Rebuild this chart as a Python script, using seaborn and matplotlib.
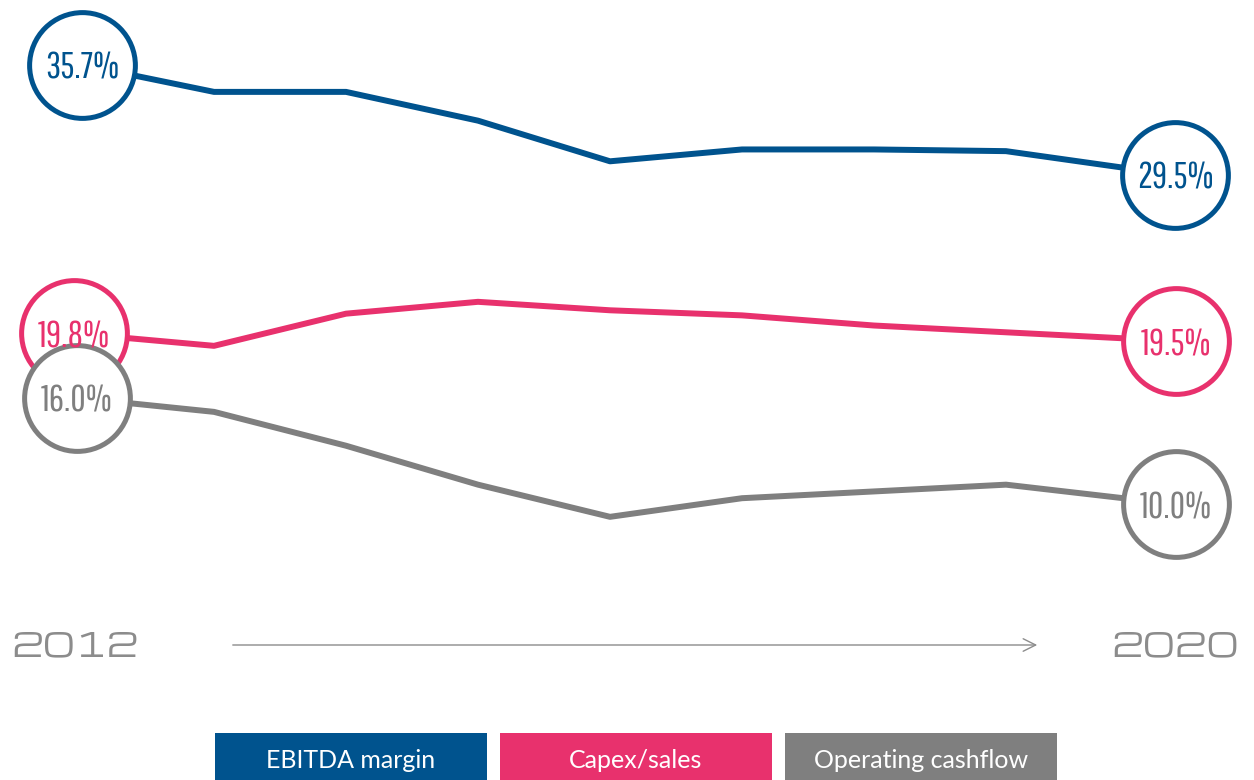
import matplotlib
matplotlib.use("Agg")
import matplotlib.pyplot as plt
from matplotlib.patches import Rectangle
import seaborn as sns
import pandas as pd
import logging
logging.getLogger("matplotlib.font_manager").setLevel(logging.ERROR)

# ---------------- data ----------------
years = [2012, 2013, 2014, 2015, 2016, 2017, 2018, 2019, 2020]
ebitda_margin = [35.7, 34.1, 34.1, 32.4, 30.0, 30.7, 30.7, 30.6, 29.5]
capex_sales = [19.8, 19.1, 21.0, 21.7, 21.2, 20.9, 20.3, 19.9, 19.5]
operating_cashflow = [16.0, 15.2, 13.2, 10.9, 9.0, 10.1, 10.5, 10.9, 10.0]
series_names = ["EBITDA margin", "Capex/sales", "Operating cashflow"]
series_values = [ebitda_margin, capex_sales, operating_cashflow]
colors = ["#00538E", "#E8316D", "#7F7F7F"]

sns.set_style("white")
plt.rcParams["font.family"] = ["DejaVu Sans"]
COND = ["Pathway Gothic One", "Saira ExtraCondensed", "DejaVu Sans"]
WIDE = ["Michroma", "DejaVu Sans"]
LEG = ["Lato", "Noto Sans", "DejaVu Sans"]

W, H, DPI = 1254, 780, 100
fig = plt.figure(figsize=(W / DPI, H / DPI), dpi=DPI)
ax = fig.add_axes([0, 0, 1, 1])

px_per_x = 132.0
x0_px = 82.0
px_per_v = 16.93
v_top = 669.2 / px_per_v
ax.set_xlim(-x0_px / px_per_x, (W - x0_px) / px_per_x)
ax.set_ylim(v_top - H / px_per_v, v_top)
ax.axis("off")

idx = list(range(len(years)))
df = pd.DataFrame({
    "i": idx * 3,
    "value": ebitda_margin + capex_sales + operating_cashflow,
    "series": sum([[n] * len(years) for n in series_names], []),
})
sns.lineplot(data=df, x="i", y="value", hue="series", palette=dict(zip(series_names, colors)),
             linewidth=4.3, legend=False, ax=ax, zorder=2, estimator=None, sort=False)

# end circles (offset in pixels from the first / last point)
start_dx = [0, -8, -5]
end_dx = [37, 38, 38]
for vals, col, sdx, edx in zip(series_values, colors, start_dx, end_dx):
    for i_pt, dx_px, nb in ((0, sdx, 1), (len(vals) - 1, edx, len(vals) - 2)):
        slope = (vals[i_pt] - vals[nb]) / (i_pt - nb)
        xc = i_pt + dx_px / px_per_x
        yc = vals[i_pt] + slope * (dx_px / px_per_x)
        ax.scatter([xc], [yc], s=5800, facecolor="white", edgecolor=col, linewidth=3.6, zorder=3)
        ax.text(xc, yc, f"{vals[i_pt]:.1f}%", ha="center", va="center_baseline", color=col,
                fontsize=27, family=COND, zorder=4)

# timeline
ax.annotate("", xy=(1040, H - 645), xytext=(230, H - 645), xycoords="figure pixels",
            textcoords="figure pixels",
            arrowprops=dict(arrowstyle="->,head_length=0.9,head_width=0.45", color="#8C8C8C", lw=1.0))
for xpx, yr in ((75, years[0]), (1175, years[-1])):
    fig.text(xpx / W, 1 - 647 / H, str(yr), ha="center", va="center", color="#8C8C8C",
             fontsize=24, family=WIDE)

# legend boxes
box_x = [215, 500, 785]
for bx, name, col in zip(box_x, series_names, colors):
    fig.patches.append(Rectangle((bx / W, 0), 272 / W, 47 / H, transform=fig.transFigure,
                                 facecolor=col, edgecolor="none"))
    fig.text((bx + 136) / W, 1 - 760 / H, name, ha="center", va="center", color="white",
             fontsize=18, family=LEG)

fig.savefig("out.png", dpi=DPI)
